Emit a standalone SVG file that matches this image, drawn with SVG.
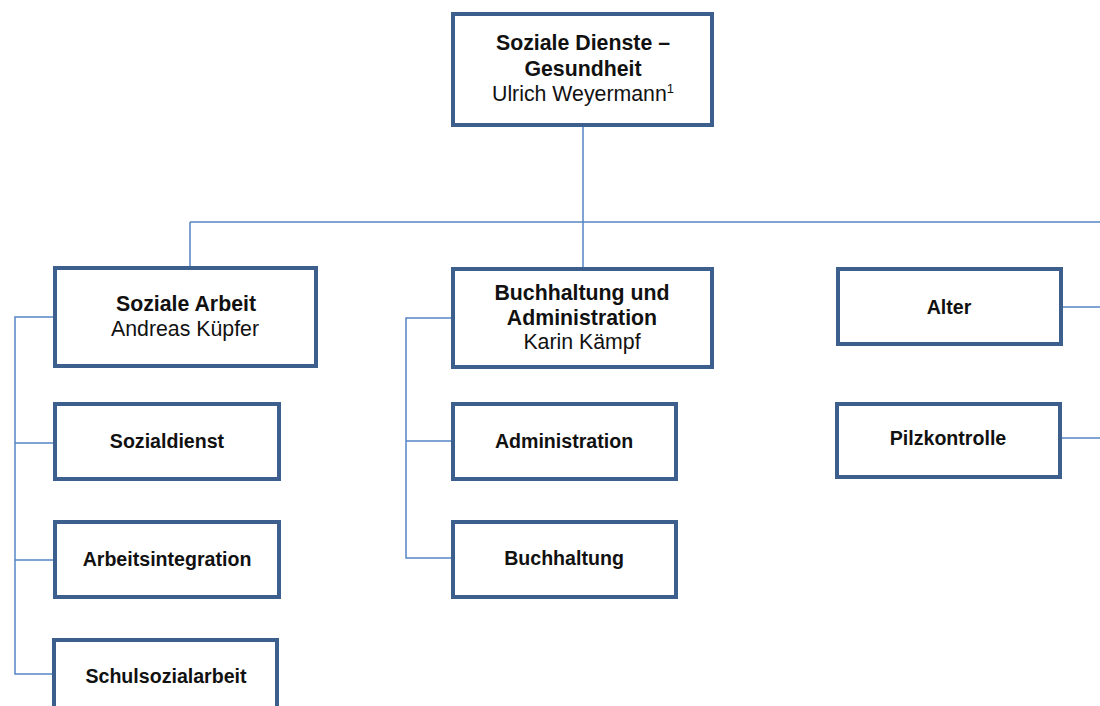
<svg xmlns="http://www.w3.org/2000/svg" width="1100" height="706" viewBox="0 0 1100 706">
<style>
.box{fill:#fff;stroke:#3c5f8d;stroke-width:4}
.c{fill:none;stroke:#5585c5;stroke-width:1.5}
text{font-family:"Liberation Sans",Arial,sans-serif;font-size:19.6px;fill:#111;text-anchor:middle}
.b{font-weight:bold}
.h{font-size:21.3px}
</style>
<rect width="1100" height="706" fill="#fff"/>
<g id="connectors">
<path class="c" d="M583 126V222M190 222H1100M190 222V266M583 222V267"/>
<path class="c" d="M53 317H15V674H53M15 443H53M15 560H53"/>
<path class="c" d="M451 318H406V558H451M406 441H451"/>
<path class="c" d="M1062 307H1100M1061 438H1100"/>
</g>
<g id="n-top"><rect class="box" x="453" y="14" width="259" height="111"/>
<text class="b h" x="583" y="50">Soziale Dienste –</text>
<text class="b h" x="583" y="76">Gesundheit</text>
<text class="h" x="583" y="101">Ulrich Weyermann<tspan font-size="13" dy="-8">1</tspan></text></g>
<g id="n-soziale-arbeit"><rect class="box" x="55" y="268" width="261" height="98"/>
<text class="b h" x="186" y="311">Soziale Arbeit</text>
<text class="h" x="185" y="336">Andreas Küpfer</text></g>
<g id="n-buchhaltung-admin"><rect class="box" x="453" y="269" width="259" height="98"/>
<text class="b h" x="582" y="300">Buchhaltung und</text>
<text class="b h" x="582" y="325">Administration</text>
<text class="h" x="582" y="349">Karin Kämpf</text></g>
<g id="n-alter"><rect class="box" x="838" y="269" width="223" height="75"/>
<text class="b" x="949" y="314">Alter</text></g>
<g id="n-pilzkontrolle"><rect class="box" x="837" y="404" width="223" height="73"/>
<text class="b" x="948" y="445">Pilzkontrolle</text></g>
<g id="n-sozialdienst"><rect class="box" x="55" y="404" width="224" height="75"/>
<text class="b" x="167" y="448">Sozialdienst</text></g>
<g id="n-arbeitsintegration"><rect class="box" x="55" y="522" width="224" height="75"/>
<text class="b" x="167" y="566">Arbeitsintegration</text></g>
<g id="n-schulsozialarbeit"><rect class="box" x="54" y="640" width="223" height="75"/>
<text class="b" x="166" y="683">Schulsozialarbeit</text></g>
<g id="n-administration"><rect class="box" x="453" y="404" width="223" height="75"/>
<text class="b" x="564" y="448">Administration</text></g>
<g id="n-buchhaltung"><rect class="box" x="453" y="522" width="223" height="75"/>
<text class="b" x="564" y="565">Buchhaltung</text></g>
</svg>
